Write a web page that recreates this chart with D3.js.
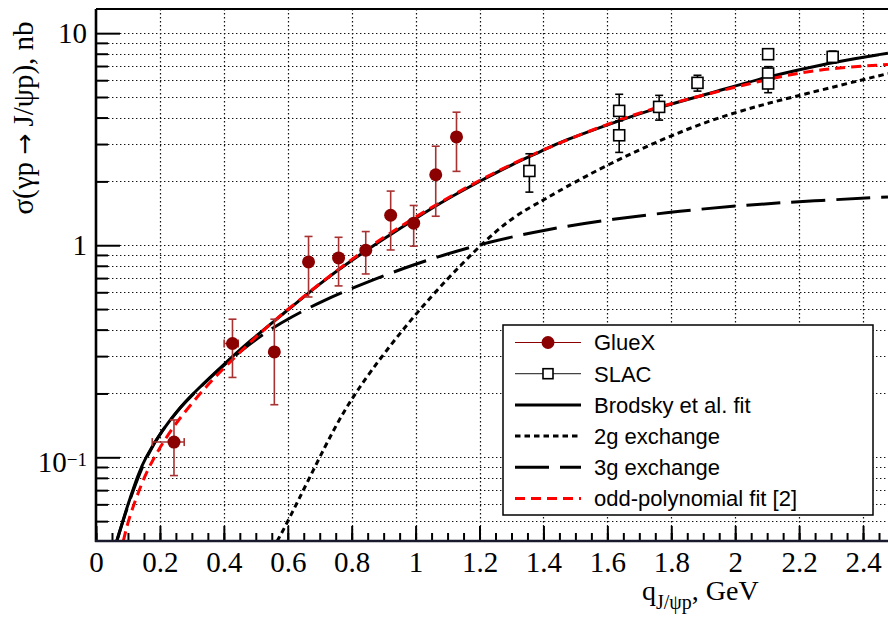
<!DOCTYPE html>
<html>
<head>
<meta charset="utf-8">
<script src="https://cdn.jsdelivr.net/npm/d3@7"></script>
<style>
  html, body { margin: 0; padding: 0; background: #fff; }
  svg { display: block; }
</style>
</head>
<body>
<div id="chart"></div>
<script>
// ---- data ----
var gluexQ     = [0.244, 0.427, 0.558, 0.665, 0.759, 0.844, 0.922, 0.994, 1.063, 1.128];
var gluexQLow  = [0.176, 0.401, 0.558, 0.665, 0.759, 0.844, 0.922, 0.994, 1.063, 1.128];
var gluexQHigh = [0.276, 0.445, 0.558, 0.665, 0.759, 0.844, 0.922, 0.994, 1.063, 1.128];
var gluexSigma = [0.118, 0.344, 0.314, 0.834, 0.871, 0.947, 1.385, 1.27, 2.15, 3.24];
var gluexLow   = [0.082, 0.238, 0.177, 0.570, 0.643, 0.732, 0.95, 0.99, 1.37, 2.23];
var gluexHigh  = [0.150, 0.448, 0.448, 1.10, 1.09, 1.16, 1.80, 1.54, 2.93, 4.24];

var slacQ     = [1.356, 1.637, 1.637, 1.762, 1.882, 2.103, 2.103, 2.103, 2.305];
var slacSigma = [2.24, 4.30, 3.30, 4.49, 5.83, 7.96, 6.45, 5.79, 7.73];
var slacErr   = [0.46, 0.85, 0.56, 0.60, 0.50, 0.25, 0.50, 0.55, 0.50];

var brodskyQ = [0.065, 0.091, 0.101, 0.133, 0.153, 0.206, 0.268, 0.31, 0.393, 0.477, 0.6, 0.7,
  0.8, 0.9, 1.0, 1.1, 1.2, 1.3, 1.4, 1.452, 1.64, 1.765, 1.921, 2.078, 2.2, 2.307, 2.478];
var brodskySigma = [0.0403, 0.0542, 0.0605, 0.0838, 0.0986, 0.134, 0.176, 0.204, 0.268, 0.350, 0.494, 0.66,
  0.85, 1.07, 1.34, 1.66, 2.0, 2.40, 2.80, 3.07, 3.89, 4.49, 5.20, 6.10, 6.72, 7.30, 8.05];

var twoGQ = [0.567, 0.6, 0.722, 0.805, 1.0, 1.2, 1.306, 1.40, 1.452, 1.608, 1.765, 1.921, 2.078, 2.203, 2.478];
var twoGSigma = [0.0403, 0.0495, 0.1175, 0.200, 0.485, 1.00, 1.37, 1.63, 1.82, 2.43, 3.13, 3.89, 4.57, 5.10, 6.45];

var threeGQ = [0.065, 0.101, 0.153, 0.206, 0.268, 0.31, 0.378, 0.471, 0.55, 0.607, 0.706, 0.831, 0.962,
  1.092, 1.222, 1.41, 1.619, 1.827, 2.036, 2.244, 2.478];
var threeGSigma = [0.0403, 0.0605, 0.0986, 0.134, 0.175, 0.203, 0.255, 0.335, 0.405, 0.455, 0.545, 0.655, 0.78,
  0.905, 1.03, 1.19, 1.33, 1.45, 1.55, 1.62, 1.69];

var oddQ = [0.0855, 0.101, 0.127, 0.153, 0.179, 0.206, 0.247, 0.299, 0.351, 0.404, 0.445, 0.5, 0.6,
  0.8, 1.0, 1.2, 1.4, 1.64, 1.765, 1.921, 2.098, 2.203, 2.307, 2.478];
var oddSigma = [0.0403, 0.0504, 0.065, 0.082, 0.098, 0.115, 0.143, 0.179, 0.221, 0.267, 0.307, 0.37, 0.50,
  0.87, 1.37, 2.04, 2.85, 3.93, 4.52, 5.20, 6.05, 6.50, 6.85, 7.12];

var xMajorTicks = [0, 0.2, 0.4, 0.6, 0.8, 1, 1.2, 1.4, 1.6, 1.8, 2, 2.2, 2.4];
var yMajorTicks = [0.1, 1, 10];
var yMinorTicks = [0.05, 0.06, 0.07, 0.08, 0.09, 0.2, 0.3, 0.4, 0.5, 0.6, 0.7, 0.8, 0.9,
  2, 3, 4, 5, 6, 7, 8, 9];

var legendLabels = ['GlueX', 'SLAC', 'Brodsky et al. fit', '2g exchange', '3g exchange', 'odd-polynomial fit [2]'];

// ---- params ----
var width = 888, height = 619;
var plotLeft = 96, plotTop = 9, plotBottom = 541;
var serif = '"Liberation Serif", "Times New Roman", serif';
var sans = '"Liberation Sans", Arial, sans-serif';
var gluexColor = '#8b0000';
var gluexErrColor = '#a83232';

var x = d3.scaleLinear().domain([0, 2.5]).range([plotLeft, plotLeft + 2.5 * 319.6]);
var y = d3.scaleLog().domain([0.0403, 13]).range([plotBottom, plotTop]);

var svg = d3.select('#chart').append('svg')
  .attr('width', width)
  .attr('height', height);

svg.append('defs').append('clipPath').attr('id', 'plot-clip')
  .append('rect')
  .attr('x', plotLeft).attr('y', plotTop)
  .attr('width', width - plotLeft).attr('height', plotBottom - plotTop);

// grid
var grid = svg.append('g').attr('class', 'grid')
  .attr('stroke', '#111').attr('stroke-width', 1.2).attr('stroke-dasharray', '1.4,2.6');
grid.selectAll('line.gy')
  .data(yMajorTicks.concat(yMinorTicks))
  .enter().append('line')
  .attr('class', 'gy')
  .attr('x1', plotLeft).attr('x2', width)
  .attr('y1', d => Math.round(y(d)) + 0.5)
  .attr('y2', d => Math.round(y(d)) + 0.5);
grid.selectAll('line.gx')
  .data(xMajorTicks.filter(d => d > 0))
  .enter().append('line')
  .attr('class', 'gx')
  .attr('x1', d => Math.round(x(d)) + 0.5)
  .attr('x2', d => Math.round(x(d)) + 0.5)
  .attr('y1', plotTop).attr('y2', plotBottom);

// curves
var plot = svg.append('g').attr('clip-path', 'url(#plot-clip)');
var line = d3.line()
  .x(d => x(d[0]))
  .y(d => y(d[1]))
  .curve(d3.curveBasis);

var curves = [
  { q: threeGQ, s: threeGSigma, color: '#000', dash: '34,11' },
  { q: twoGQ, s: twoGSigma, color: '#000', dash: '5.5,4' },
  { q: brodskyQ, s: brodskySigma, color: '#000', dash: null },
  { q: oddQ, s: oddSigma, color: '#ff0000', dash: '10,6' }
];
curves.forEach(function(c) {
  plot.append('path')
    .datum(d3.zip(c.q, c.s))
    .attr('d', line)
    .attr('fill', 'none')
    .attr('stroke', c.color)
    .attr('stroke-width', 3)
    .attr('stroke-dasharray', c.dash);
});

// SLAC points
var slac = plot.append('g').attr('stroke', '#000').attr('stroke-width', 1.6);
slacQ.forEach(function(q, i) {
  var cx = x(q), lo = y(slacSigma[i] - slacErr[i]), hi = y(slacSigma[i] + slacErr[i]);
  slac.append('line').attr('x1', cx).attr('x2', cx).attr('y1', lo).attr('y2', hi);
  slac.append('line').attr('x1', cx - 4).attr('x2', cx + 4).attr('y1', lo).attr('y2', lo);
  slac.append('line').attr('x1', cx - 4).attr('x2', cx + 4).attr('y1', hi).attr('y2', hi);
});
slac.selectAll('rect')
  .data(d3.zip(slacQ, slacSigma))
  .enter().append('rect')
  .attr('x', d => x(d[0]) - 5.5)
  .attr('y', d => y(d[1]) - 5.5)
  .attr('width', 11).attr('height', 11)
  .attr('fill', '#fff');

// GlueX points
var gluex = plot.append('g').attr('stroke', gluexErrColor).attr('stroke-width', 1.6);
gluexQ.forEach(function(q, i) {
  var cx = x(q), cy = y(gluexSigma[i]);
  var lo = y(gluexLow[i]), hi = y(gluexHigh[i]);
  gluex.append('line').attr('x1', cx).attr('x2', cx).attr('y1', lo).attr('y2', hi);
  gluex.append('line').attr('x1', cx - 4).attr('x2', cx + 4).attr('y1', lo).attr('y2', lo);
  gluex.append('line').attr('x1', cx - 4).attr('x2', cx + 4).attr('y1', hi).attr('y2', hi);
  if (gluexQHigh[i] > gluexQLow[i]) {
    var xl = x(gluexQLow[i]), xh = x(gluexQHigh[i]);
    gluex.append('line').attr('x1', xl).attr('x2', xh).attr('y1', cy).attr('y2', cy);
    gluex.append('line').attr('x1', xl).attr('x2', xl).attr('y1', cy - 4).attr('y2', cy + 4);
    gluex.append('line').attr('x1', xh).attr('x2', xh).attr('y1', cy - 4).attr('y2', cy + 4);
  }
});
plot.append('g').selectAll('circle')
  .data(d3.zip(gluexQ, gluexSigma))
  .enter().append('circle')
  .attr('cx', d => x(d[0]))
  .attr('cy', d => y(d[1]))
  .attr('r', 6.5)
  .attr('fill', gluexColor);

// axes
function styleAxis(g) {
  g.select('.domain').remove();
  g.selectAll('.tick line').attr('stroke', '#000').attr('stroke-width', 2);
}

var gxMinor = svg.append('g').attr('transform', `translate(0,${plotBottom})`)
  .call(d3.axisBottom(x).tickValues(d3.range(0, 50).map(i => i * 0.05))
    .tickSize(-8).tickFormat(''));
styleAxis(gxMinor);

var gx = svg.append('g').attr('transform', `translate(0,${plotBottom})`)
  .call(d3.axisBottom(x).tickValues(xMajorTicks).tickSize(-15).tickPadding(0)
    .tickFormat(d3.format('~g')));
styleAxis(gx);
gx.selectAll('text')
  .attr('y', 31).attr('dy', 0)
  .attr('fill', '#000')
  .style('font-family', serif).style('font-size', '29px');

var gyMinor = svg.append('g').attr('transform', `translate(${plotLeft},0)`)
  .call(d3.axisLeft(y).tickValues(yMinorTicks).tickSize(-12).tickFormat(''));
styleAxis(gyMinor);

var gy = svg.append('g').attr('transform', `translate(${plotLeft},0)`)
  .call(d3.axisLeft(y).tickValues(yMajorTicks).tickSize(-24).tickPadding(9)
    .tickFormat(d => d === 0.1 ? '' : d3.format('~g')(d)));
styleAxis(gy);
gy.selectAll('text')
  .attr('fill', '#000')
  .style('font-family', serif).style('font-size', '29px');
gy.selectAll('.tick').filter(d => d === 0.1).select('text')
  .attr('dy', '0.5em')
  .call(function(t) {
    t.append('tspan').text('10');
    t.append('tspan').attr('dy', '-0.32em').style('font-size', '19px').text('\u22121');
  });

// frame
svg.append('line').attr('x1', plotLeft).attr('x2', width).attr('y1', plotTop).attr('y2', plotTop)
  .attr('stroke', '#000').attr('stroke-width', 1.8);
svg.append('line').attr('x1', plotLeft).attr('x2', plotLeft).attr('y1', plotTop).attr('y2', plotBottom + 1)
  .attr('stroke', '#000').attr('stroke-width', 2.6);
svg.append('line').attr('x1', plotLeft - 1).attr('x2', width).attr('y1', plotBottom).attr('y2', plotBottom)
  .attr('stroke', '#1a1a2e').attr('stroke-width', 2.6);

// axis titles
var yTitle = svg.append('text')
  .attr('transform', 'translate(33,118) rotate(-90)')
  .attr('text-anchor', 'middle')
  .attr('fill', '#000')
  .style('font-family', serif).style('font-size', '29px');
yTitle.append('tspan').text('\u03c3(\u03b3p ');
yTitle.append('tspan').style('font-family', '"DejaVu Sans", sans-serif').style('font-size', '25px').text('\u2192');
yTitle.append('tspan').text(' J/\u03c8p), nb');

var xTitle = svg.append('text')
  .attr('x', 642).attr('y', 600)
  .attr('fill', '#000')
  .style('font-family', serif).style('font-size', '28px');
xTitle.append('tspan').text('q');
xTitle.append('tspan').attr('dy', 9).style('font-size', '20px').text('J/\u03c8p');
xTitle.append('tspan').attr('dy', -9).text(', GeV');

// legend
var legend = svg.append('g');
legend.append('rect')
  .attr('x', 503).attr('y', 325).attr('width', 370).attr('height', 190)
  .attr('fill', '#fff').attr('stroke', '#000').attr('stroke-width', 1.5);

var rowY = d3.scalePoint().domain(legendLabels).range([342.5, 498.5]);
var sx0 = 515, sx1 = 581, smid = 548;

legend.selectAll('text')
  .data(legendLabels)
  .enter().append('text')
  .attr('x', 594)
  .attr('y', d => rowY(d))
  .attr('dy', '0.36em')
  .attr('fill', '#000')
  .style('font-family', sans).style('font-size', '22px')
  .text(d => d);

var ly = rowY(legendLabels[0]);
legend.append('line').attr('x1', sx0).attr('x2', sx1).attr('y1', ly).attr('y2', ly)
  .attr('stroke', gluexColor).attr('stroke-width', 1.2);
legend.append('circle').attr('cx', smid).attr('cy', ly).attr('r', 6.5).attr('fill', gluexColor);

ly = rowY(legendLabels[1]);
legend.append('line').attr('x1', sx0).attr('x2', sx1).attr('y1', ly).attr('y2', ly)
  .attr('stroke', '#444').attr('stroke-width', 1.2);
legend.append('rect').attr('x', smid - 5).attr('y', ly - 5).attr('width', 10).attr('height', 10)
  .attr('fill', '#fff').attr('stroke', '#000').attr('stroke-width', 1.6);

[curves[2], curves[1], curves[0], curves[3]].forEach(function(c, i) {
  var yy = rowY(legendLabels[i + 2]);
  legend.append('line').attr('x1', sx0).attr('x2', sx1).attr('y1', yy).attr('y2', yy)
    .attr('stroke', c.color).attr('stroke-width', 3).attr('stroke-dasharray', c.dash);
});
</script>
</body>
</html>
